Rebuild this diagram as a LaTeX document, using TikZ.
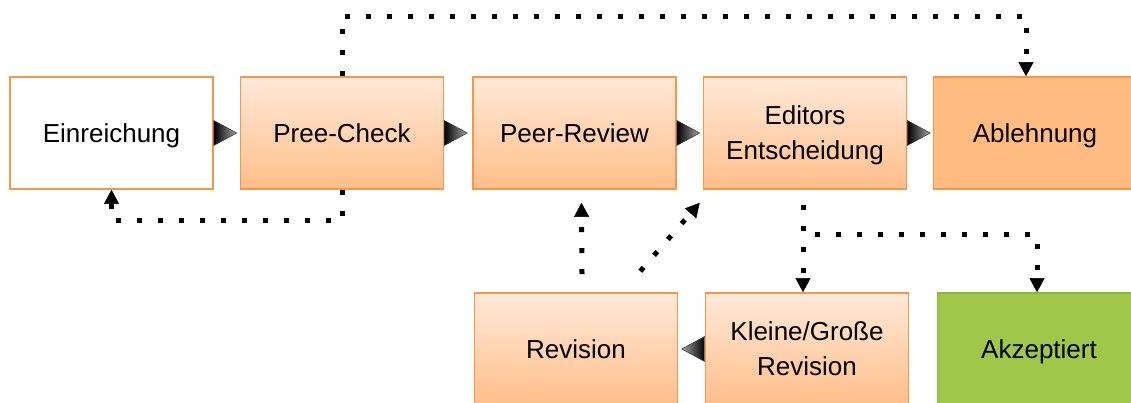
\documentclass[tikz,border=0pt]{standalone}
\usepackage{fontspec}
\setmainfont{Liberation Sans}
\usetikzlibrary{arrows.meta,calc}

\definecolor{boxline}{RGB}{247,150,70}
\definecolor{boxtop}{RGB}{255,233,216}
\definecolor{boxbottom}{RGB}{255,190,138}
\definecolor{rejectfill}{RGB}{255,187,128}
\definecolor{acceptfill}{RGB}{160,198,74}
\definecolor{acceptline}{RGB}{143,180,68}

\tikzset{
  box/.style={draw=boxline, line width=1.6pt, minimum width=203pt, minimum height=112pt,
    inner sep=0pt, text depth=0pt, align=center, font=\fontsize{26}{35}\selectfont},
  stagebox/.style={box, top color=boxtop, bottom color=boxbottom},
  dotline/.style={line width=5pt, dash pattern=on 5pt off 16pt,
    -{Triangle[width=15pt,length=14pt,line width=0.5pt]}},
  flowtip/.style={draw=black!80, line width=0.5pt}
}

\begin{document}
\begin{tikzpicture}[x=1pt,y=-1pt]
        \useasboundingbox (0,0) rectangle (1131,402);
        \clip (0,0) rectangle (1131,402);

        \node[box, fill=white] (ein) at (111.5,133) {Einreichung};
        \node[stagebox] (pre) at (342,133) {Pree-Check};
        \node[stagebox] (peer) at (574.5,133) {Peer-Review};
        \node[stagebox] (edi) at (805,133) {Editors\\Entscheidung};
        \node[box, fill=rejectfill] (abl) at (1035,133) {Ablehnung};
        \node[stagebox] (rev) at (576,349) {Revision};
        \node[stagebox] (klein) at (807,349) {Kleine/Große\\Revision};
        \node[box, draw=acceptline, fill=acceptfill] (akz) at (1039,349) {Akzeptiert};

        % forward steps
        \foreach \a in {ein,pre,peer,edi}
            \shade[flowtip, left color=black, right color=black!35]
                (\a.east) ++(0,12.5) -- ++(23,-12.5) -- ++(-23,-12.5) -- cycle;
        \shade[flowtip, left color=black!35, right color=black]
            (klein.west) ++(0,12.5) -- ++(-23,-12.5) -- ++(23,-12.5) -- cycle;

        % dotted feedback paths
        \draw[dotline] (pre.north) |- ($(abl.north)+(-9,-60)$) -- ($(abl.north)+(-9,0)$);
        \draw[dotline] (pre.south) -- ++(0,31) -| (ein.south);
        \draw[dotline] ($(rev.north)+(6,-18)$) -- ($(peer.south)+(7,13)$);
        \draw[dotline] ($(rev.north east)+(-38,-21)$) -- ($(edi.south west)+(-3,13)$);

        \coordinate (split) at ($(edi.south)+(-2,45)$);
        \draw[dotline] ($(edi.south)+(-2,15)$) -- (split) -- (split |- klein.north);
        \draw[dotline] ($(split)+(12,0)$) -| ($(akz.north)+(-2,0)$);
\end{tikzpicture}
\end{document}
